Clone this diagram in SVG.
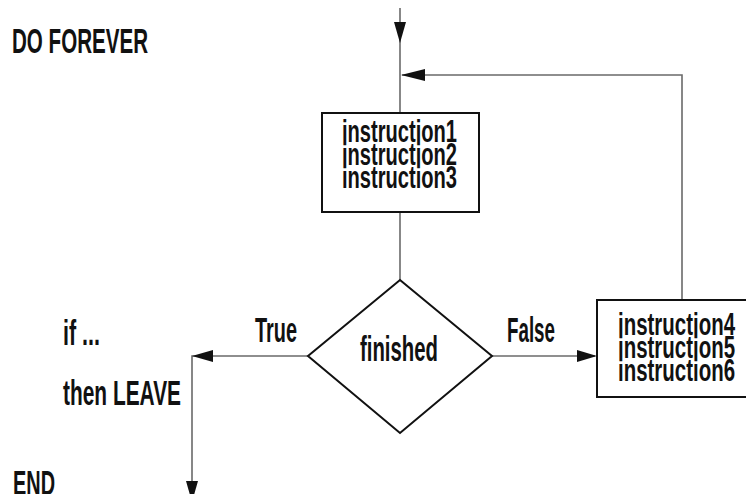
<svg xmlns="http://www.w3.org/2000/svg" width="746" height="494" viewBox="0 0 746 494">
<style>
.t{font-family:"Liberation Sans",Arial,sans-serif;font-weight:bold;fill:#111;lengthAdjust:spacingAndGlyphs}
.box{fill:#fff;stroke:#111;stroke-width:2}
.ln{fill:none;stroke:#6a6a6a;stroke-width:1.6}
.ah{fill:#111;stroke:none}
</style>
<rect width="746" height="494" fill="#fff"/>
<g id="connectors">
<line class="ln" x1="400" y1="8" x2="400" y2="113"/>
<polygon class="ah" points="394,22 406,22 400,43"/>
<line class="ln" x1="400" y1="213" x2="400" y2="280"/>
<polyline class="ln" points="682,300 682,75 402,75"/>
<polygon class="ah" points="425,69 425,81 401,75"/>
<polyline class="ln" points="308,356 192,356 192,490"/>
<polygon class="ah" points="213,350 213,362 192,356"/>
<polygon class="ah" points="186,481 198,481 192,502"/>
<line class="ln" x1="492" y1="356" x2="595" y2="356"/>
<polygon class="ah" points="577,350 577,362 597,356"/>
</g>
<g id="label-doforever"><text class="t" x="12" y="53" font-size="35" textLength="136" lengthAdjust="spacingAndGlyphs">DO FOREVER</text></g>
<g id="box1">
<rect class="box" x="322" y="113" width="157" height="99"/>
<text class="t" x="342" y="142" font-size="32" textLength="115" lengthAdjust="spacingAndGlyphs">instruction1</text>
<text class="t" x="342" y="165" font-size="32" textLength="115" lengthAdjust="spacingAndGlyphs">instruction2</text>
<text class="t" x="342" y="188" font-size="32" textLength="115" lengthAdjust="spacingAndGlyphs">instruction3</text>
</g>
<g id="decision">
<polygon points="400,280 492,356 400,433 308,356" fill="#fff" stroke="#111" stroke-width="2"/>
<text class="t" x="360" y="361" font-size="35" textLength="78" lengthAdjust="spacingAndGlyphs">finished</text>
</g>
<g id="label-true"><text class="t" x="255" y="342" font-size="35" textLength="42" lengthAdjust="spacingAndGlyphs">True</text></g>
<g id="label-false"><text class="t" x="507" y="342" font-size="35" textLength="48" lengthAdjust="spacingAndGlyphs">False</text></g>
<g id="box2">
<rect class="box" x="597" y="300" width="170" height="97"/>
<text class="t" x="618" y="335" font-size="32" textLength="117" lengthAdjust="spacingAndGlyphs">instruction4</text>
<text class="t" x="618" y="358" font-size="32" textLength="117" lengthAdjust="spacingAndGlyphs">instruction5</text>
<text class="t" x="618" y="381" font-size="32" textLength="117" lengthAdjust="spacingAndGlyphs">instruction6</text>
</g>
<g id="label-if"><text class="t" x="63" y="345" font-size="35" textLength="37" lengthAdjust="spacingAndGlyphs">if ...</text></g>
<g id="label-then"><text class="t" x="63" y="405" font-size="35" textLength="118" lengthAdjust="spacingAndGlyphs">then LEAVE</text></g>
<g id="label-end"><text class="t" x="13" y="495" font-size="35" textLength="42" lengthAdjust="spacingAndGlyphs">END</text></g>
</svg>
